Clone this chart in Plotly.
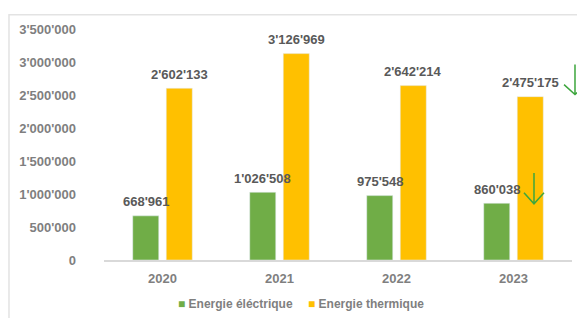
import plotly.graph_objects as go

years = ["2020", "2021", "2022", "2023"]
electrique = [668961, 1026508, 975548, 860038]
thermique = [2602133, 3126969, 2642214, 2475175]
series_names = ["Energie éléctrique", "Energie thermique"]
tick_vals = [0, 500000, 1000000, 1500000, 2000000, 2500000, 3000000, 3500000]
tick_text = ["0", "500'000", "1'000'000", "1'500'000", "2'000'000", "2'500'000", "3'000'000", "3'500'000"]

GREEN = "#70AD47"
YELLOW = "#FFC000"
LABEL = "#595959"
AXIS = "#7F7F7F"
FONT = "Arial, Liberation Sans, sans-serif"


def fmt(v):
    return f"{v:,}".replace(",", "'")


fig = go.Figure()
fig.add_trace(go.Bar(x=years, y=electrique, name=series_names[0], marker_color=GREEN, showlegend=False))
fig.add_trace(go.Bar(x=years, y=thermique, name=series_names[1], marker_color=YELLOW, showlegend=False))

annotations = []
for vals, shift in [(electrique, -16.75), (thermique, 16.75)]:
    for i, v in enumerate(vals):
        annotations.append(dict(x=i, y=v, text=fmt(v), showarrow=False,
                                xshift=shift, yshift=14, yanchor="middle",
                                font=dict(family=FONT, size=13, color=LABEL, weight="bold")))

# legend (coloured square + series name)
for name, col, lx in zip(series_names, [GREEN, YELLOW], [0.154, 0.431]):
    annotations.append(dict(xref="paper", yref="paper", x=lx, y=-0.191, xanchor="left",
                            yanchor="middle", showarrow=False,
                            text=f"<span style='color:{col}'>■</span> {name}",
                            font=dict(family=FONT, size=12, color=AXIS, weight="bold")))

# chart border and trend arrows (decorations)
shapes = [
    dict(type="rect", xref="paper", yref="paper", x0=-0.203, x1=1.08, y0=-0.35, y1=1.062,
         line=dict(color="#E3E3E3", width=1.5), layer="below"),
    dict(type="path", xref="paper", yref="paper",
         path="M1.0064,0.846 L1.0064,0.716 M0.983,0.759 L1.0064,0.716 L1.030,0.759",
         line=dict(color="#3DA63D", width=1.5)),
    dict(type="path", xref="paper", yref="paper",
         path="M0.9188,0.377 L0.9188,0.243 M0.8974,0.291 L0.9188,0.243 L0.9402,0.291",
         line=dict(color="#3DA63D", width=1.5)),
]

# the page body adds an 8px offset, so the figure is 8px smaller with margins reduced
fig.update_layout(
    width=577, height=310,
    margin=dict(l=96, r=13, t=21, b=58, autoexpand=False),
    paper_bgcolor="white", plot_bgcolor="white",
    barmode="group", bargap=0.427, bargroupgap=0.224,
    font=dict(family=FONT, size=13, color=AXIS),
    annotations=annotations, shapes=shapes,
    showlegend=False,
    xaxis=dict(type="category", range=[-0.5, 3.5], showgrid=False, showline=True,
               linecolor="#D9D9D9", linewidth=1.5, automargin=False,
               ticks="", ticklabelstandoff=6,
               tickfont=dict(family=FONT, size=13, color=AXIS, weight="bold"),
               fixedrange=True),
    yaxis=dict(range=[0, 3500000], showgrid=False, zeroline=False, showline=False,
               tickvals=tick_vals, ticktext=tick_text, ticks="", automargin=False,
               ticklabelstandoff=27,
               tickfont=dict(family=FONT, size=13, color=AXIS, weight="bold"),
               fixedrange=True),
)

fig.write_html("out.html")
